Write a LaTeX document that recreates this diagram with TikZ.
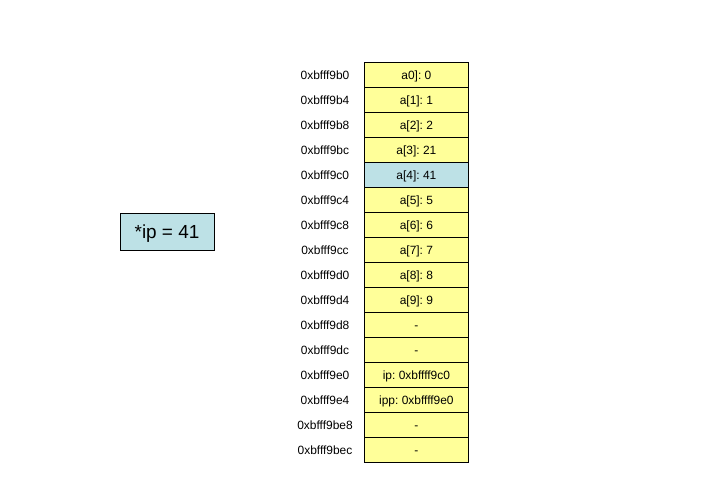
\documentclass[tikz,border=0pt]{standalone}
\usepackage{fontspec}
\setmainfont{Liberation Sans}
\frenchspacing
\definecolor{cellyellow}{HTML}{FFFF99}
\definecolor{cellblue}{HTML}{BDE1E6}
\begin{document}
\begin{tikzpicture}[x=1bp,y=-1bp,
  cell/.style={draw=black,line width=0.8bp,minimum width=104bp,minimum height=25bp,inner sep=0pt,text height=8.6bp,text depth=0pt,anchor=north west,font=\fontsize{12}{14}\selectfont},
  addr/.style={font=\fontsize{12}{14}\selectfont,inner sep=0pt,text height=8.6bp,text depth=0pt},
  note/.style={draw=black,line width=0.8bp,fill=cellblue,minimum width=94bp,minimum height=37bp,inner sep=0pt,text height=13.6bp,text depth=0pt,font=\fontsize{19}{22}\selectfont}]
\useasboundingbox (0,0) rectangle (720,504);
\foreach \i/\a/\v/\c in {0/0xbfff9b0/{a0]: 0}/cellyellow,
  1/0xbfff9b4/{a[1]: 1}/cellyellow,
  2/0xbfff9b8/{a[2]: 2}/cellyellow,
  3/0xbfff9bc/{a[3]: 21}/cellyellow,
  4/0xbfff9c0/{a[4]: 41}/cellblue,
  5/0xbfff9c4/{a[5]: 5}/cellyellow,
  6/0xbfff9c8/{a[6]: 6}/cellyellow,
  7/0xbfff9cc/{a[7]: 7}/cellyellow,
  8/0xbfff9d0/{a[8]: 8}/cellyellow,
  9/0xbfff9d4/{a[9]: 9}/cellyellow,
  10/0xbfff9d8/{-}/cellyellow,
  11/0xbfff9dc/{-}/cellyellow,
  12/0xbfff9e0/{ip: 0xbffff9c0}/cellyellow,
  13/0xbfff9e4/{ipp: 0xbffff9e0}/cellyellow,
  14/0xbfff9be8/{-}/cellyellow,
  15/0xbfff9bec/{-}/cellyellow}{
  \node[cell,fill=\c] (c\i) at (364,62+25*\i) {\v};
  \node[addr] (l\i) at (325,75+25*\i) {\a};
}
\node[note] (ip) at (167,231.5) {*ip = 41};
\end{tikzpicture}
\end{document}
